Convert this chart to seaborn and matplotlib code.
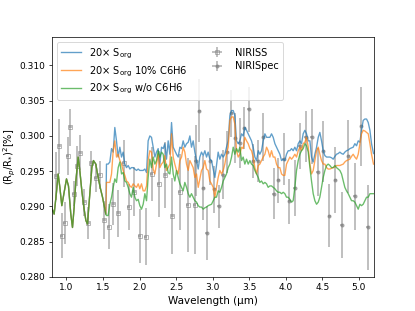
import numpy as np
import pandas as pd
import seaborn as sns
import matplotlib
matplotlib.use("Agg")
import matplotlib.pyplot as plt

# ---- model spectra ----
# below ~1.54 um the three models coincide
wl_shared = [0.795, 0.831, 0.863, 0.886, 0.909, 0.936, 0.964, 1.000, 1.027, 1.059,
             1.082, 1.105, 1.128, 1.160, 1.182, 1.210, 1.237, 1.265, 1.287, 1.319,
             1.347, 1.369, 1.401, 1.433, 1.465, 1.493, 1.515, 1.538]
depth_shared = [.2899, .2889, .2920, .2946, .2927, .2901, .2918, .2939, .2929, .2889,
                .2870, .2899, .2936, .2970, .2951, .2922, .2899, .2880, .2875, .2918,
                .2955, .2965, .2960, .2941, .2925, .2913, .2901, .2889]

wl_model = [1.547, 1.570, 1.593, 1.616, 1.639, 1.661, 1.684, 1.707, 1.730, 1.753,
            1.775, 1.798, 1.821, 1.844, 1.867, 1.889, 1.912, 1.935, 1.958, 1.981,
            2.003, 2.026, 2.049, 2.072, 2.095, 2.117, 2.140, 2.163, 2.186, 2.209,
            2.231, 2.254, 2.277, 2.300, 2.323, 2.345, 2.368, 2.391, 2.414, 2.437,
            2.460, 2.482, 2.505, 2.528, 2.551, 2.574, 2.596, 2.619, 2.642, 2.665,
            2.688, 2.710, 2.733, 2.756, 2.779, 2.802, 2.824, 2.847, 2.870, 2.893,
            2.916, 2.938, 2.961, 2.984, 3.007, 3.030, 3.052, 3.075, 3.098, 3.121,
            3.144, 3.166, 3.189, 3.212, 3.235, 3.258, 3.281, 3.303, 3.326, 3.349,
            3.372, 3.395, 3.417, 3.440, 3.463, 3.486, 3.509, 3.531, 3.554, 3.577,
            3.600, 3.623, 3.645, 3.668, 3.691, 3.714, 3.737, 3.759, 3.782, 3.805,
            3.828, 3.851, 3.873, 3.896, 3.919, 3.942, 3.965, 3.987, 4.010, 4.033,
            4.056, 4.079, 4.101, 4.124, 4.147, 4.170, 4.193, 4.215, 4.238, 4.261,
            4.284, 4.307, 4.330, 4.352, 4.375, 4.398, 4.421, 4.444, 4.466, 4.489,
            4.512, 4.535, 4.558, 4.580, 4.603, 4.626, 4.649, 4.672, 4.694, 4.717,
            4.740, 4.763, 4.786, 4.808, 4.831, 4.854, 4.877, 4.900, 4.922, 4.945,
            4.968, 4.991, 5.014, 5.036, 5.059, 5.082, 5.105, 5.128, 5.151, 5.173,
            5.200]

depth_sorg = [.2960, .2960, .2963, .2982, .2977, .3012, .2993, .2970, .2984, .2970,
              .2977, .2960, .2955, .2958, .2953, .2955, .2955, .2953, .2951, .2953,
              .2951, .2951, .2951, .2953, .2948, .2993, .3000, .2998, .2984, .2970,
              .2977, .2982, .2960, .2984, .2982, .2989, .2967, .2993, .2974, .3019,
              .2984, .2979, .2974, .2970, .2984, .2982, .2993, .2984, .2989, .2991,
              .3000, .2984, .2993, .2977, .2965, .2953, .2970, .2977, .2972, .2979,
              .2970, .2977, .2967, .2965, .2953, .2941, .2958, .2977, .2967, .2974,
              .2970, .2974, .2984, .2993, .3029, .3036, .3036, .3029, .2993, .2989,
              .2993, .3003, .3000, .3012, .3008, .3003, .2998, .2993, .2984, .2970,
              .2965, .2979, .2974, .2979, .2993, .3003, .2998, .2998, .2998, .3003,
              .2998, .2989, .2984, .2979, .2974, .2965, .2967, .2965, .2974, .2979,
              .2979, .2982, .2979, .2984, .2979, .2989, .2993, .2989, .3003, .3008,
              .3003, .2993, .2993, .2970, .2963, .2974, .2984, .2998, .3005, .2993,
              .2979, .2972, .2970, .2970, .2970, .2969, .2967, .2971, .2974, .2975,
              .2977, .2975, .2974, .2977, .2979, .2980, .2982, .2983, .2984, .2989,
              .2986, .2993, .2991, .3008, .3022, .3024, .3024, .3019, .3008, .2989,
              .2975]

depth_10pct = [.2934, .2934, .2934, .2946, .2979, .2993, .2970, .2974, .2965, .2960,
               .2951, .2944, .2936, .2934, .2929, .2927, .2932, .2929, .2927, .2932,
               .2925, .2932, .2922, .2922, .2929, .2965, .2979, .2977, .2953, .2946,
               .2960, .2974, .2955, .2960, .2963, .2972, .2951, .2955, .2960, .3003,
               .2970, .2960, .2951, .2946, .2965, .2970, .2984, .2977, .2960, .2951,
               .2965, .2960, .2955, .2941, .2946, .2927, .2939, .2951, .2955, .2965,
               .2953, .2951, .2936, .2932, .2927, .2913, .2927, .2941, .2951, .2946,
               .2951, .2960, .2974, .2984, .3022, .3027, .3027, .3017, .2979, .2970,
               .2974, .2984, .2982, .2998, .2993, .2989, .2982, .2979, .2970, .2955,
               .2946, .2958, .2960, .2965, .2970, .2974, .2984, .2979, .2970, .2979,
               .2970, .2970, .2960, .2955, .2955, .2946, .2944, .2944, .2960, .2965,
               .2970, .2967, .2970, .2974, .2970, .2979, .2984, .2979, .2989, .2991,
               .2998, .2984, .2960, .2946, .2951, .2965, .2979, .2984, .2974, .2965,
               .2960, .2960, .2955, .2953, .2953, .2954, .2955, .2956, .2958, .2958,
               .2958, .2959, .2960, .2963, .2965, .2966, .2967, .2971, .2974, .2970,
               .2967, .2974, .2989, .3003, .3008, .3007, .3005, .3003, .2989, .2974,
               .2960]

depth_noc6h6 = [.2887, .2887, .2903, .2913, .2927, .2939, .2934, .2955, .2963, .2946,
                .2948, .2936, .2934, .2927, .2918, .2913, .2927, .2913, .2908, .2910,
                .2901, .2896, .2903, .2918, .2908, .2941, .2967, .2955, .2970, .2960,
                .2965, .2979, .2970, .2977, .2974, .2955, .2960, .2948, .2946, .2970,
                .2946, .2936, .2951, .2941, .2932, .2927, .2922, .2934, .2927, .2918,
                .2913, .2918, .2913, .2908, .2906, .2901, .2899, .2899, .2896, .2898,
                .2899, .2901, .2902, .2903, .2908, .2913, .2913, .2922, .2920, .2927,
                .2936, .2941, .2946, .2955, .2960, .2970, .2984, .2974, .2982, .2977,
                .2984, .2965, .2970, .2960, .2967, .2960, .2965, .2960, .2958, .2951,
                .2946, .2941, .2934, .2936, .2932, .2934, .2932, .2927, .2929, .2929,
                .2927, .2925, .2922, .2920, .2920, .2918, .2920, .2918, .2913, .2913,
                .2910, .2906, .2908, .2927, .2951, .2965, .2974, .2979, .2982, .2989,
                .2986, .2977, .2955, .2936, .2918, .2908, .2903, .2906, .2913, .2927,
                .2941, .2951, .2958, .2960, .2958, .2955, .2955, .2958, .2955, .2953,
                .2951, .2946, .2936, .2927, .2922, .2918, .2913, .2908, .2908, .2906,
                .2901, .2896, .2903, .2901, .2903, .2908, .2913, .2913, .2918, .2918,
                .2918]

model_labels = ["20× S$_{\\rm org}$",
                "20× S$_{\\rm org}$ 10% C6H6",
                "20× S$_{\\rm org}$ w/o C6H6"]

# ---- observations ----
niriss_wl = [0.863, 0.900, 0.936, 0.977, 1.014, 1.050, 1.100, 1.146, 1.187, 1.246,
             1.296, 1.342, 1.401, 1.456, 1.515, 1.579, 1.643, 1.711, 1.780, 1.853,
             1.926, 2.003, 2.085, 2.168, 2.259, 2.350, 2.450, 2.551, 2.660, 2.755]
niriss_depth = [.2943, .2985, .2858, .2876, .2971, .3012, .2918, .2957, .2976, .2906,
                .2876, .2961, .2940, .2945, .2880, .2871, .2903, .2890, .2961, .2899,
                .2921, .2858, .2857, .2946, .2932, .2945, .2886, .2920, .2902, .2902]
niriss_err = [.0034, .0039, .0032, .0030, .0027, .0026, .0018, .0028, .0025, .0019,
              .0023, .0018, .0020, .0020, .0027, .0032, .0030, .0033, .0033, .0033,
              .0035, .0038, .0040, .0038, .0047, .0047, .0054, .0054, .0067, .0070]

nirspec_wl = [2.765, 2.815, 2.870, 2.920, 2.970, 3.020, 3.084, 3.138, 3.202, 3.252,
              3.306, 3.370, 3.430, 3.495, 3.554, 3.620, 3.695, 3.832, 3.900, 3.970,
              4.047, 4.120, 4.193, 4.270, 4.352, 4.435, 4.512, 4.594, 4.676, 4.767,
              4.854, 4.945, 5.032, 5.123]
nirspec_depth = [.2965, .3036, .2926, .2862, .2964, .2924, .2900, .2945, .2977, .3032,
                 .2997, .2990, .3011, .3038, .2964, .2964, .2999, .2918, .2937, .2967,
                 .2907, .2926, .2986, .2999, .2999, .2949, .2978, .2887, .2937, .2874,
                 .2971, .2914, .3014, .2870]
nirspec_err = [.0050, .0045, .0045, .0038, .0033, .0033, .0031, .0035, .0030, .0033,
               .0035, .0036, .0030, .0032, .0024, .0030, .0034, .0036, .0032, .0037,
               .0032, .0040, .0033, .0036, .0039, .0034, .0043, .0045, .0047, .0047,
               .0052, .0047, .0056, .0060]

# long-form table for seaborn
frames = []
for lab, dep in zip(model_labels, [depth_sorg, depth_10pct, depth_noc6h6]):
    frames.append(pd.DataFrame({"wl": wl_shared + wl_model,
                                "depth": depth_shared + dep,
                                "model": lab}))
df = pd.concat(frames, ignore_index=True)

fig, ax = plt.subplots(figsize=(415 / 65, 311 / 65), dpi=65)

ax.errorbar(niriss_wl, niriss_depth, yerr=niriss_err, xerr=0.02, fmt="s",
            ms=3.5, mfc="none", mew=1, color="gray", ecolor="gray",
            elinewidth=1.8, alpha=0.6, label="NIRISS", zorder=1)
ax.errorbar(nirspec_wl, nirspec_depth, yerr=nirspec_err, xerr=0.02, fmt="o",
            ms=3.5, color="gray", ecolor="gray", elinewidth=1.8, alpha=0.6,
            label="NIRISpec", zorder=1)

sns.lineplot(data=df, x="wl", y="depth", hue="model", hue_order=model_labels,
             palette=["#1f77b4", "#ff7f0e", "#2ca02c"], alpha=0.7, lw=1.5,
             estimator=None, sort=True, ax=ax, zorder=2)

ax.set_xlim(0.8, 5.2)
ax.set_ylim(0.280, 0.314)
ax.set_xticks([1.0, 1.5, 2.0, 2.5, 3.0, 3.5, 4.0, 4.5, 5.0])
ax.set_yticks([0.280, 0.285, 0.290, 0.295, 0.300, 0.305, 0.310])
ax.set_xlabel("Wavelength (µm)", fontsize=11.5)
ax.set_ylabel("(R$_p$/R$_{*}$)$^2$[%]", fontsize=11, labelpad=2)

handles, labels = ax.get_legend_handles_labels()
order = [labels.index(l) for l in model_labels + ["NIRISS", "NIRISpec"]]
ax.legend([handles[i] for i in order], [labels[i] for i in order],
          loc="upper left", ncol=2, fontsize=11, labelspacing=0.35)

fig.savefig("out.png", dpi=65)
